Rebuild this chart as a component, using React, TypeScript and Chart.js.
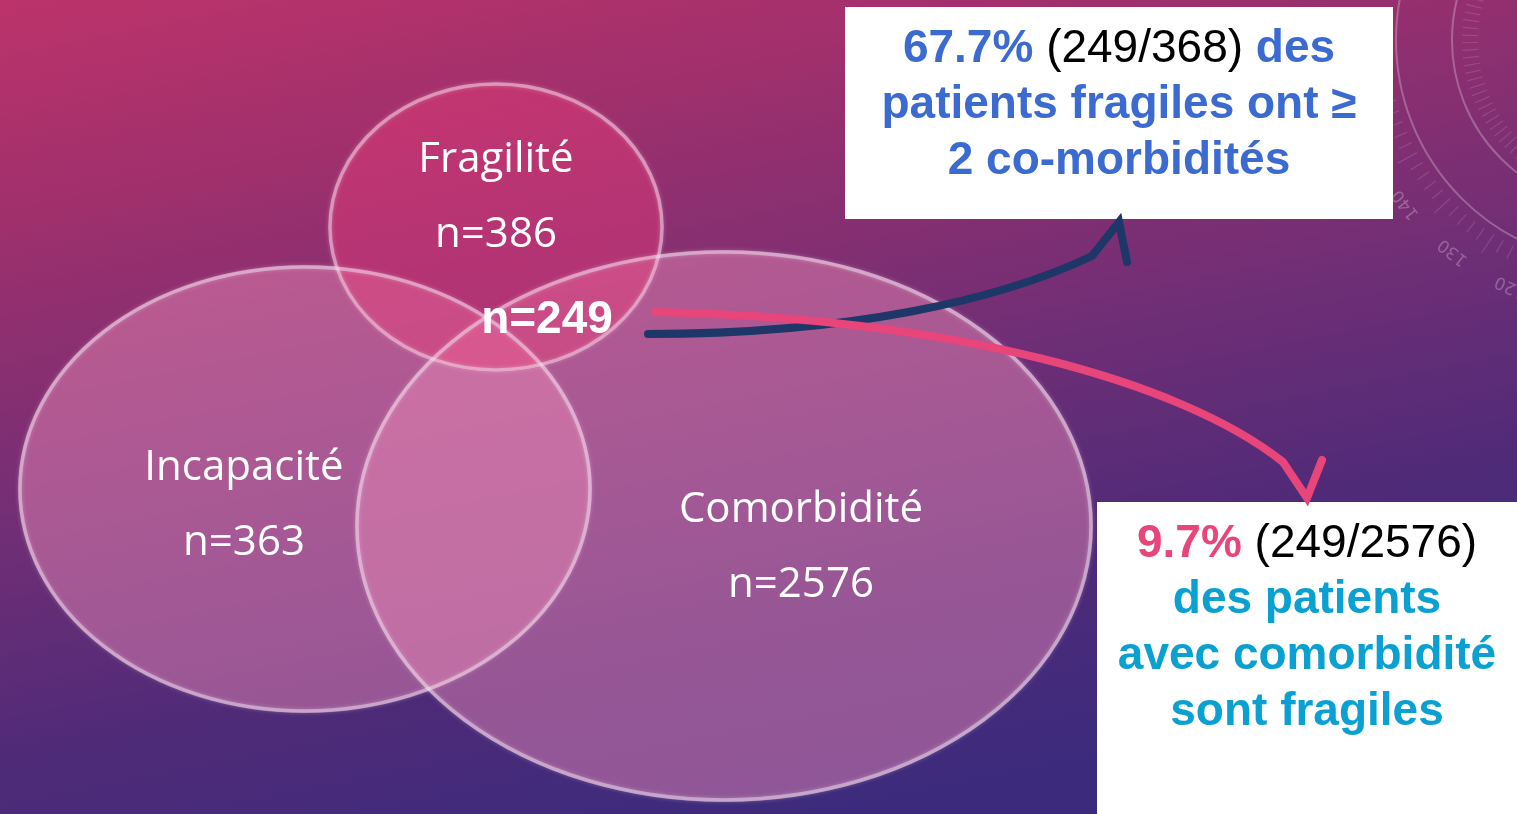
import React, { useEffect, useRef } from "react";
import { Chart, registerables } from "chart.js";

Chart.register(...registerables);

// ---- data ----
const SET_NAMES = ["Fragilité", "Incapacité", "Comorbidité"];
const SET_COUNTS = [386, 363, 2576];
const OVERLAP_COUNT = 249; // fragile patients with comorbidity (≥ 2)
const FRAIL_ASSESSED = 368;
const COMORBID_TOTAL = 2576;
const DIAL_LABELS = ["140", "130", "120"];

// ---- layout (scale units: x 0..1517, y 0..814 top-down) ----
const ELLIPSE_CX = [496, 305, 724];
const ELLIPSE_CY = [227, 489, 526];
const ELLIPSE_RX = [168, 287, 369];
const ELLIPSE_RY = [145, 224, 276];
const LABEL_X = [496, 244, 801];
const NAME_Y = [172, 480, 522];
const COUNT_Y = [247, 555, 597];
const ELLIPSE_FILL = [
  "rgba(230,60,120,0.45)",
  "rgba(232,135,182,0.48)",
  "rgba(232,135,182,0.48)",
];

const W = 1517;
const H = 814;

const pct = (a: number, b: number) => ((a / b) * 100).toFixed(1) + "%";

type Run = { text: string; font: string; color: string };

function drawRuns(ctx: CanvasRenderingContext2D, runs: Run[], cx: number, y: number) {
  let total = 0;
  const widths = runs.map((r) => {
    ctx.font = r.font;
    const w = ctx.measureText(r.text).width;
    total += w;
    return w;
  });
  let x = cx - total / 2;
  ctx.textAlign = "left";
  ctx.textBaseline = "alphabetic";
  runs.forEach((r, i) => {
    ctx.font = r.font;
    ctx.fillStyle = r.color;
    ctx.fillText(r.text, x, y);
    x += widths[i];
  });
}

const vennPlugin = {
  id: "vennDiagram",
  beforeDraw(chart: any) {
    const ctx: CanvasRenderingContext2D = chart.ctx;
    const { width, height } = chart;
    ctx.save();
    // backdrop: pink at the top, deep violet at the bottom
    const g = ctx.createLinearGradient(200, -100, 400, 900);
    g.addColorStop(0, "#c4346a");
    g.addColorStop(0.25, "#a2306c");
    g.addColorStop(0.6, "#6c2e76");
    g.addColorStop(0.8, "#4e2a78");
    g.addColorStop(1, "#3c2b7c");
    ctx.fillStyle = g;
    ctx.fillRect(0, 0, width, height);

    // dial ornament, top right
    const ox = 1620;
    const oy = 40;
    ctx.strokeStyle = "rgba(255,255,255,0.26)";
    ctx.lineWidth = 2;
    ctx.beginPath();
    ctx.arc(ox, oy, 224, Math.PI * 0.5, Math.PI * 1.2);
    ctx.stroke();
    ctx.beginPath();
    ctx.arc(ox, oy, 168, Math.PI * 0.5, Math.PI * 1.3);
    ctx.stroke();
    ctx.lineWidth = 1.2;
    ctx.strokeStyle = "rgba(255,255,255,0.13)";
    for (let a = 95; a <= 200; a += 2.8) {
      const t = (a * Math.PI) / 180;
      const long = Math.round((a - 95) / 2.8) % 5 === 0;
      ctx.beginPath();
      ctx.moveTo(ox + Math.cos(t) * 232, oy + Math.sin(t) * 232);
      ctx.lineTo(ox + Math.cos(t) * (long ? 254 : 246), oy + Math.sin(t) * (long ? 254 : 246));
      ctx.stroke();
      ctx.beginPath();
      ctx.moveTo(ox + Math.cos(t) * 142, oy + Math.sin(t) * 142);
      ctx.lineTo(ox + Math.cos(t) * 158, oy + Math.sin(t) * 158);
      ctx.stroke();
    }
    ctx.fillStyle = "rgba(255,255,255,0.26)";
    ctx.font = "17px 'DejaVu Sans', sans-serif";
    ctx.textAlign = "center";
    ctx.textBaseline = "middle";
    DIAL_LABELS.forEach((lab, i) => {
      const deg = 142.5 - i * 14.3;
      const t = (deg * Math.PI) / 180;
      ctx.save();
      ctx.translate(ox + Math.cos(t) * 270, oy + Math.sin(t) * 270);
      ctx.rotate(t + Math.PI / 2);
      ctx.fillText(lab, 0, 0);
      ctx.restore();
    });
    ctx.restore();
  },
  afterDatasetsDraw(chart: any) {
    const ctx: CanvasRenderingContext2D = chart.ctx;
    const xs = chart.scales.x;
    const ys = chart.scales.y;
    const px = (v: number) => xs.getPixelForValue(v);
    const py = (v: number) => ys.getPixelForValue(v);

    ctx.save();
    // set ellipses
    const order = [1, 2, 0];
    const geom = (i: number) => {
      const cx = px(ELLIPSE_CX[i]);
      const cy = py(ELLIPSE_CY[i]);
      const rx = Math.abs(px(ELLIPSE_CX[i] + ELLIPSE_RX[i]) - cx);
      const ry = Math.abs(py(ELLIPSE_CY[i] + ELLIPSE_RY[i]) - cy);
      return { cx, cy, rx, ry };
    };
    order.forEach((i) => {
      const { cx, cy, rx, ry } = geom(i);
      ctx.beginPath();
      ctx.ellipse(cx, cy, rx, ry, 0, 0, Math.PI * 2);
      ctx.fillStyle = ELLIPSE_FILL[i];
      ctx.fill();
    });
    order.forEach((i) => {
      const { cx, cy, rx, ry } = geom(i);
      ctx.beginPath();
      ctx.ellipse(cx, cy, rx - 2, ry - 2, 0, 0, Math.PI * 2);
      ctx.strokeStyle = "rgba(240,225,245,0.48)";
      ctx.shadowColor = "rgba(255,255,255,0.55)";
      ctx.shadowBlur = 4;
      ctx.lineWidth = 3.5;
      ctx.stroke();
    });
    ctx.shadowBlur = 0;

    // set labels
    ctx.fillStyle = "#ffffff";
    ctx.textAlign = "center";
    ctx.textBaseline = "alphabetic";
    ctx.font = "42px 'Open Sans', sans-serif";
    SET_NAMES.forEach((name, i) => {
      ctx.fillText(name, px(LABEL_X[i]), py(NAME_Y[i]));
      ctx.fillText("n=" + SET_COUNTS[i], px(LABEL_X[i]), py(COUNT_Y[i]));
    });
    ctx.font = "bold 46px 'Liberation Sans', Arial, sans-serif";
    ctx.fillText("n=" + OVERLAP_COUNT, px(547), py(333));

    // call-out boxes
    ctx.fillStyle = "#ffffff";
    ctx.fillRect(px(845), py(7), px(1393) - px(845), py(219) - py(7));
    ctx.fillRect(px(1097), py(502), px(1517) - px(1097), py(814) - py(502));

    const B = "bold 46px 'Liberation Sans', Arial, sans-serif";
    const R = "46px 'Liberation Sans', Arial, sans-serif";
    const blue = "#3b6ad0";
    const cyan = "#0aa0d2";
    const pink = "#e8457a";
    const c1 = px(1119);
    drawRuns(ctx, [
      { text: pct(OVERLAP_COUNT, FRAIL_ASSESSED), font: B, color: blue },
      { text: " (" + OVERLAP_COUNT + "/" + FRAIL_ASSESSED + ") ", font: R, color: "#000000" },
      { text: "des", font: B, color: blue },
    ], c1, py(62));
    drawRuns(ctx, [{ text: "patients fragiles ont ≥", font: B, color: blue }], c1, py(118));
    drawRuns(ctx, [{ text: "2 co-morbidités", font: B, color: blue }], c1, py(174));

    const c2 = px(1307);
    drawRuns(ctx, [
      { text: pct(OVERLAP_COUNT, COMORBID_TOTAL), font: B, color: pink },
      { text: " (" + OVERLAP_COUNT + "/" + COMORBID_TOTAL + ")", font: R, color: "#000000" },
    ], c2, py(557));
    drawRuns(ctx, [{ text: "des patients", font: B, color: cyan }], c2, py(613));
    drawRuns(ctx, [{ text: "avec comorbidité", font: B, color: cyan }], c2, py(669));
    drawRuns(ctx, [{ text: "sont fragiles", font: B, color: cyan }], c2, py(725));

    // arrows
    ctx.lineCap = "round";
    ctx.lineJoin = "miter";
    ctx.lineWidth = 8;
    ctx.strokeStyle = "#1d3768";
    ctx.beginPath();
    ctx.moveTo(px(648), py(334));
    ctx.bezierCurveTo(px(850), py(334), px(1000), py(300), px(1092), py(256));
    ctx.lineTo(px(1119), py(222));
    ctx.lineTo(px(1127), py(262));
    ctx.stroke();

    ctx.strokeStyle = pink;
    ctx.beginPath();
    ctx.moveTo(px(655), py(312));
    ctx.bezierCurveTo(px(950), py(318), px(1180), py(380), px(1283), py(462));
    ctx.lineTo(px(1307), py(498));
    ctx.lineTo(px(1322), py(460));
    ctx.stroke();
    ctx.restore();
  },
};

export default function App() {
  const ref = useRef<HTMLCanvasElement | null>(null);
  useEffect(() => {
    document.body.style.margin = "0";
    const canvas = ref.current;
    if (!canvas) return;
    const chart = new Chart(canvas, {
      type: "scatter",
      data: {
        datasets: [
          {
            label: "Ensembles",
            data: ELLIPSE_CX.map((x, i) => ({ x, y: ELLIPSE_CY[i] })),
            pointRadius: 0,
            pointHoverRadius: 0,
          },
        ],
      },
      options: {
        animation: false,
        responsive: false,
        devicePixelRatio: 1,
        layout: { padding: 0 },
        events: [],
        scales: {
          x: { type: "linear", min: 0, max: W, display: false },
          y: { type: "linear", min: 0, max: H, reverse: true, display: false },
        },
        plugins: { legend: { display: false }, tooltip: { enabled: false } },
      },
      plugins: [vennPlugin],
    });
    return () => chart.destroy();
  }, []);
  return <canvas ref={ref} width={W} height={H} style={{ display: "block" }} />;
}
